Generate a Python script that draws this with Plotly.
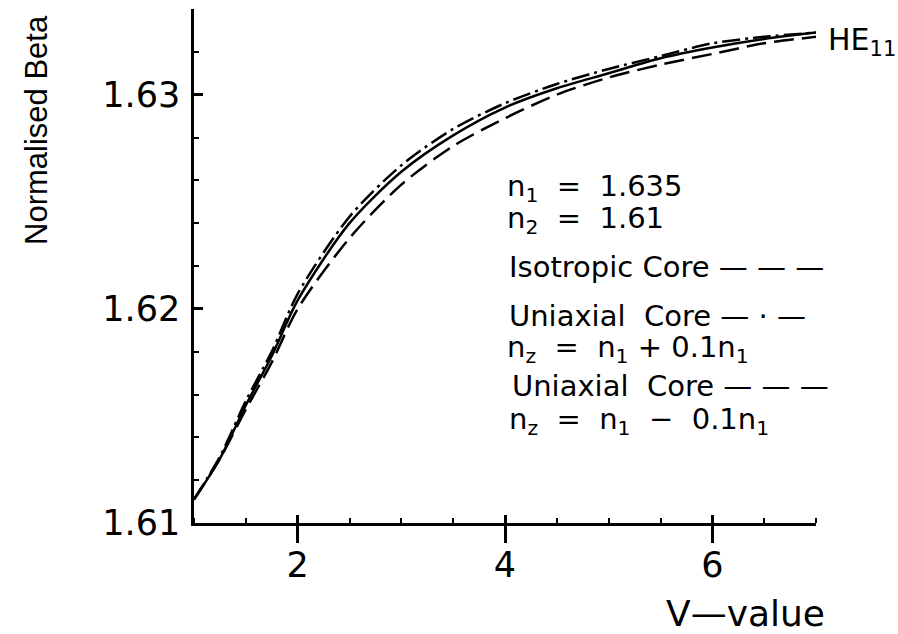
import plotly.graph_objects as go

v_values = [1.0, 1.25, 1.5, 1.75, 2.0, 2.5, 3.0, 3.5, 4.0, 4.5, 5.0, 5.5, 6.0, 6.5, 7.0]
beta_uniaxial_plus = [1.6111, 1.6131, 1.6157, 1.6180, 1.6207, 1.6243, 1.6267, 1.6284,
                      1.6296, 1.6305, 1.6312, 1.6318, 1.6324, 1.6327, 1.6329]
beta_isotropic = [1.6111, 1.6130, 1.6155, 1.6178, 1.6204, 1.6240, 1.6264, 1.6281,
                  1.6294, 1.6303, 1.6310, 1.6317, 1.6322, 1.6326, 1.6329]
beta_uniaxial_minus = [1.6111, 1.6130, 1.6153, 1.6175, 1.6200, 1.6233, 1.6258, 1.6276,
                       1.6289, 1.6300, 1.6308, 1.6314, 1.6319, 1.6324, 1.6327]

x_major_ticks = [2, 4, 6]
x_tick_labels = ["2", "4", "6"]
y_major_ticks = [1.61, 1.62, 1.63]
y_tick_labels = ["1.61", "1.62", "1.63"]

FONT = "DejaVu Sans, sans-serif"
TITLE_FONT = "Liberation Sans, Arial, sans-serif"
FS = 29
TICK_FS = 35
W, H = 898, 634
L, R, T, B = 194, 82, 9, 111
PW, PH = W - L - R, H - T - B

def px(x):
    return (x - L) / PW

def py(y):
    return (H - B - y) / PH

fig = go.Figure()
fig.add_trace(go.Scatter(x=v_values, y=beta_uniaxial_plus, mode="lines",
                         line=dict(color="black", width=2.5, shape="spline", smoothing=0.8,
                                   dash="18px,5px,3px,5px")))
fig.add_trace(go.Scatter(x=v_values, y=beta_isotropic, mode="lines",
                         line=dict(color="black", width=2.5, shape="spline", smoothing=0.8)))
fig.add_trace(go.Scatter(x=v_values, y=beta_uniaxial_minus, mode="lines",
                         line=dict(color="black", width=2.5, shape="spline", smoothing=0.8,
                                   dash="20px,8px")))
fig.add_trace(go.Scatter(x=[], y=[], xaxis="x2", showlegend=False))

fig.update_layout(
    width=W, height=H,
    margin=dict(l=L, r=R, t=T, b=B),
    paper_bgcolor="white", plot_bgcolor="white",
    showlegend=False,
    font=dict(family=FONT, size=FS, color="black"),
    xaxis=dict(range=[1, 7], showgrid=False, zeroline=False,
               showline=True, linecolor="black", linewidth=2.5,
               tickmode="array", tickvals=x_major_ticks, ticktext=x_tick_labels,
               ticks="outside", ticklen=17, tickwidth=2.5, tickcolor="black",
               ticklabelstandoff=-8,
               minor=dict(ticks="inside", tick0=1, dtick=0.5, ticklen=5,
                          tickwidth=2, tickcolor="black", showgrid=False),
               tickfont=dict(family=FONT, size=TICK_FS)),
    xaxis2=dict(range=[1, 7], overlaying="x", anchor="y", side="bottom",
                showgrid=False, zeroline=False, showline=False,
                tickmode="array", tickvals=x_major_ticks, ticks="inside",
                ticklen=8, tickwidth=2.5, tickcolor="black", showticklabels=False),
    yaxis=dict(range=[1.61, 1.634], showgrid=False, zeroline=False,
               showline=True, linecolor="black", linewidth=2.5,
               tickmode="array", tickvals=y_major_ticks, ticktext=y_tick_labels,
               ticks="inside", ticklen=9, tickwidth=2.5, tickcolor="black",
               ticklabelstandoff=4,
               minor=dict(ticks="inside", tick0=1.61, dtick=0.002, ticklen=5,
                          tickwidth=2, tickcolor="black", showgrid=False),
               tickfont=dict(family=FONT, size=TICK_FS)),
)

def note(text, x, y, xanchor="left", angle=0, size=FS, family=FONT):
    fig.add_annotation(text=text, xref="paper", yref="paper", x=px(x), y=py(y),
                       xanchor=xanchor, yanchor="middle", showarrow=False,
                       textangle=angle, font=dict(family=family, size=size, color="black"))

note("Normalised Beta", 36, 130, xanchor="center", angle=-90, size=31, family=TITLE_FONT)
note("V—value", 745, 613, xanchor="center", size=36)
note("HE<sub>11</sub>", 826, 41, size=30)
note("n<sub>1</sub>  =  1.635", 505, 188)
note("n<sub>2</sub>  =  1.61", 505, 220)
note("Isotropic Core — — —", 507, 267)
note("Uniaxial  Core — · —", 507, 316)
note("n<sub>z</sub>  =  n<sub>1</sub> + 0.1n<sub>1</sub>", 505, 349)
note("Uniaxial  Core — — —", 510, 386)
note("n<sub>z</sub>  =  n<sub>1</sub>  −  0.1n<sub>1</sub>", 507, 421)

fig.write_html("out.html")
